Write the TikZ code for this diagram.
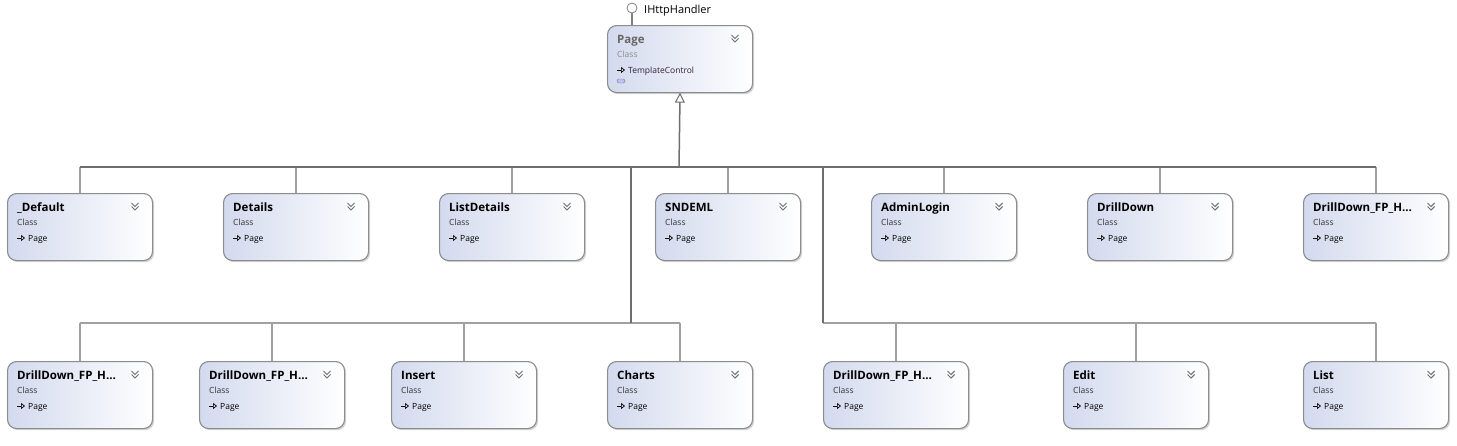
\documentclass[tikz,border=0pt]{standalone}
\usepackage{fontspec}
\setmainfont{Open Sans}
\usetikzlibrary{arrows.meta,shadows}
\definecolor{boxleft}{HTML}{D3DAEE}
\definecolor{boxborder}{HTML}{8C8C8C}
\definecolor{trunkc}{HTML}{6E6E6E}
\definecolor{branchc}{HTML}{A0A0A0}
\definecolor{chevc}{HTML}{707070}
\tikzset{
  cbox/.style={draw=boxborder, line width=1.1pt, rounded corners=9pt,
    minimum width=145pt, minimum height=67pt, inner sep=0pt,
    left color=boxleft, right color=white,
    drop shadow={shadow xshift=1.6pt, shadow yshift=-1.6pt, opacity=0.35, fill=gray}},
  ctitle/.style={inner sep=0pt, font=\fontsize{11.5}{13}\selectfont\bfseries, text=black},
  ckind/.style={inner sep=0pt, font=\fontsize{8.5}{10}\selectfont, text=black!80},
  cbase/.style={inner sep=0pt, font=\fontsize{8.5}{10}\selectfont, text=black},
  chev/.style={draw=chevc, line width=0.9pt},
  miniarrow/.style={draw=black, line width=0.7pt, -{Triangle[open,length=4pt,width=6pt,line width=0.7pt]}},
  trunk/.style={draw=trunkc, line width=1.5pt},
  branch/.style={draw=branchc, line width=1.2pt},
}
\newcommand{\classbox}[5]{% name, x, y, title, base
  \node[cbox, anchor=north west] (#1) at (#2,#3) {};
  \node[ctitle, anchor=base west] (#1-t) at ([xshift=10pt,yshift=-18pt]#1.north west) {#4};
  \node[ckind, anchor=base west] (#1-k) at ([xshift=10pt,yshift=-32.5pt]#1.north west) {Class};
  \coordinate (#1-a) at ([xshift=10pt,yshift=-45pt]#1.north west);
  \draw[miniarrow] (#1-a) -- ++(8,0);
  \node[cbase, anchor=base west] (#1-b) at ([xshift=21pt,yshift=-48.5pt]#1.north west) {#5};
  \coordinate (#1-c) at ([xshift=-21.5pt,yshift=-10pt]#1.north east);
  \draw[chev] (#1-c) -- ++(3.5,3.5) -- ++(3.5,-3.5);
  \draw[chev] ([yshift=-3.5pt]#1-c) -- ++(3.5,3.5) -- ++(3.5,-3.5);
}
\begin{document}
\begin{tikzpicture}[x=1pt,y=-1pt]
\useasboundingbox (0,0) rectangle (1457,445);
% Page
\node[cbox, anchor=north west] (page) at (607,25) {};
\node[ctitle, anchor=base west, text=black!60] (page-t) at ([xshift=10pt,yshift=-18pt]page.north west) {Page};
\node[ckind, anchor=base west, text=black!45] (page-k) at ([xshift=10pt,yshift=-32.5pt]page.north west) {Class};
\coordinate (page-a) at ([xshift=10pt,yshift=-45pt]page.north west);
\draw[miniarrow] (page-a) -- ++(8,0);
\node[cbase, anchor=base west, text={rgb,255:red,50;green,30;blue,60}] (page-b) at ([xshift=21pt,yshift=-48.5pt]page.north west) {TemplateControl};
\coordinate (page-c) at ([xshift=-21.5pt,yshift=-10pt]page.north east);
\draw[chev] (page-c) -- ++(3.5,3.5) -- ++(3.5,-3.5);
\draw[chev] ([yshift=-3.5pt]page-c) -- ++(3.5,3.5) -- ++(3.5,-3.5);
\node[draw=gray, fill=boxleft!70!blue!60, rounded corners=1.5pt, minimum width=8pt, minimum height=4pt, inner sep=0pt] (page-i) at ([xshift=14pt,yshift=-56pt]page.north west) {};
% lollipop
\node[circle, draw=gray, fill=white, line width=0.8pt, minimum size=10pt, inner sep=0pt] (ihttp) at (632,8) {};
\node[cbase, anchor=base west, font=\fontsize{11}{12}\selectfont] (ihttp-t) at (644,13) {IHttpHandler};
\draw[branch, draw=gray] (ihttp.south) -- (ihttp.south |- page.north);
% Row 1
\classbox{n1}{7}{193}{\_Default}{Page}
\classbox{n2}{223}{193}{Details}{Page}
\classbox{n3}{439}{193}{ListDetails}{Page}
\classbox{n4}{655}{193}{SNDEML}{Page}
\classbox{n5}{871}{193}{AdminLogin}{Page}
\classbox{n6}{1087}{193}{DrillDown}{Page}
\classbox{n7}{1303}{193}{DrillDown\_FP\_H...}{Page}
% Row 2
\classbox{m1}{7}{361}{DrillDown\_FP\_H...}{Page}
\classbox{m2}{199}{361}{DrillDown\_FP\_H...}{Page}
\classbox{m3}{391}{361}{Insert}{Page}
\classbox{m4}{607}{361}{Charts}{Page}
\classbox{m5}{823}{361}{DrillDown\_FP\_H...}{Page}
\classbox{m6}{1063}{361}{Edit}{Page}
\classbox{m7}{1303}{361}{List}{Page}
% Connectors
\coordinate (b1) at (679,167);
\coordinate (b2l) at (631,323);
\coordinate (b2r) at (823,323);
\foreach \n in {n1,n2,n3,n4,n5,n6,n7} {\draw[branch] (\n.north) -- (\n.north |- b1);}
\foreach \n in {m1,m2,m3,m4} {\draw[branch] (\n.north) -- (\n.north |- b2l);}
\foreach \n in {m5,m6,m7} {\draw[branch] (\n.north) -- (\n.north |- b2r);}
\draw[branch] (m1.north |- b2l) -- (m4.north |- b2l);
\draw[branch] (b2r) -- (m7.north |- b2r);
\draw[trunk] (n1.north |- b1) -- (n7.north |- b1);
\draw[trunk] (b2l |- b1) -- (b2l);
\draw[trunk] (b2r |- b1) -- (b2r);
\draw[trunk, -{Triangle[open,length=10pt,width=10pt,line width=1pt]}, shorten >=-0.5pt] (b1) -- (page.south);
\end{tikzpicture}
\end{document}
